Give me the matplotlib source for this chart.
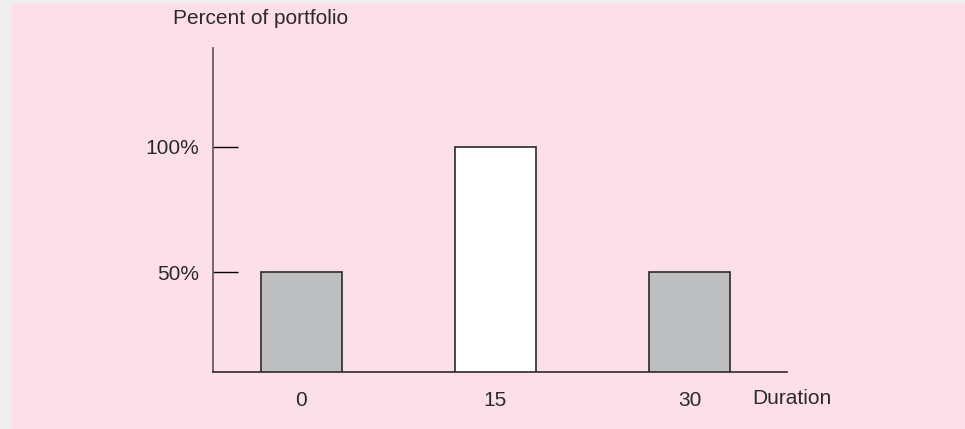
import matplotlib.pyplot as plt
from matplotlib.patches import Rectangle

plt.rcParams['font.family'] = ['Liberation Sans', 'DejaVu Sans']

durations = [0, 15, 30]
weights = [50, 100, 50]
bar_colors = ['#bdbec0', '#ffffff', '#bdbec0']
y_ticks = [50, 100]
y_tick_labels = ['50%', '100%']

pink = '#fddfea'
ink = '#2a2a2a'
fs = 15

fig = plt.figure(figsize=(9.65, 4.29), dpi=100, facecolor='#eeeeee')
# pink panel behind the chart
fig.patches.append(Rectangle((12 / 965, 0), 1, 1 - 4 / 429, transform=fig.transFigure,
                             facecolor=pink, edgecolor='none', zorder=0))

ax = fig.add_axes([213 / 965, 57 / 429, 574 / 965, 324 / 429])
ax.set_facecolor('none')
ax.set_zorder(2)

ax.bar(durations, weights, width=6.26, color=bar_colors, edgecolor=ink, linewidth=1.2, zorder=2)

ax.set_xlim(-6.84, 37.54)
ax.set_ylim(10, 139.6)

for s in ['top', 'right']:
    ax.spines[s].set_visible(False)
ax.spines['left'].set_color('#5a5458')
ax.spines['bottom'].set_color(ink)
ax.spines['left'].set_linewidth(1.2)
ax.spines['bottom'].set_linewidth(1.2)

ax.set_yticks(y_ticks)
ax.set_yticklabels(y_tick_labels, fontsize=fs, color=ink)
ax.tick_params(axis='y', direction='in', length=18, width=1, pad=10)
yticks = ax.yaxis.get_major_ticks()
yticks[0].tick1line.set_color('#3a5a8a')
yticks[1].tick1line.set_color(ink)

ax.set_xticks(durations)
ax.set_xticklabels([str(d) for d in durations], fontsize=fs, color=ink)
ax.tick_params(axis='x', length=0, pad=14)

fig.text(173 / 965, 1 - 19 / 429, 'Percent of portfolio', fontsize=fs, color=ink,
         ha='left', va='center', zorder=3)
fig.text(752 / 965, 1 - 398 / 429, 'Duration', fontsize=fs, color=ink,
         ha='left', va='center', zorder=3)

fig.savefig('out.png', dpi=100, facecolor=fig.get_facecolor())
